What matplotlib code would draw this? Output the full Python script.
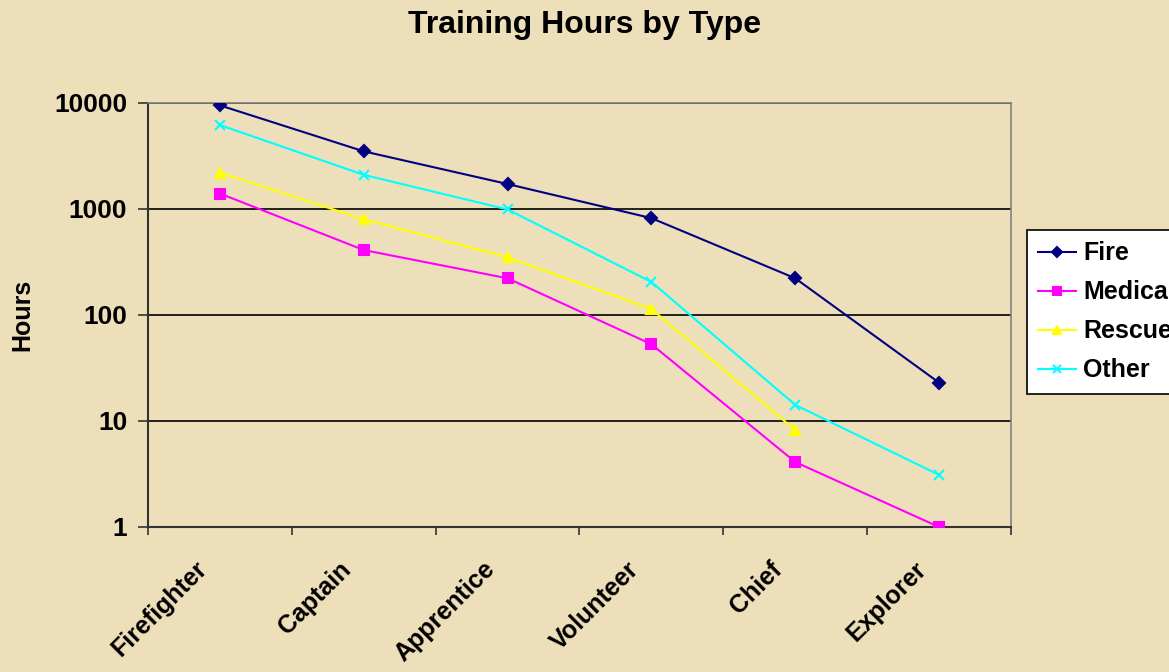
import matplotlib
matplotlib.use("Agg")
import matplotlib.pyplot as plt
from matplotlib.transforms import ScaledTranslation

# chart data
categories = ["Firefighter", "Captain", "Apprentice", "Volunteer", "Chief", "Explorer"]
fire = [9500, 3500, 1720, 820, 222, 23]
medical = [1400, 410, 222, 53, 4.1, 1]
rescue = [2200, 800, 350, 114, 8.2, None]
other = [6200, 2100, 990, 205, 14.2, 3.1]
y_ticks = [1, 10, 100, 1000, 10000]

plt.rcParams['font.family'] = ['Liberation Sans', 'DejaVu Sans']
plt.rcParams['font.weight'] = 'bold'

bg = '#EEDFBB'
fig = plt.figure(figsize=(11.69, 6.72), dpi=100, facecolor=bg)
ax = fig.add_axes([148/1169, 1 - 527/672, (1011-148)/1169, (527-103)/672])
ax.set_facecolor('none')

x = list(range(len(categories)))

def pts(vals):
    xs = [i for i, v in zip(x, vals) if v is not None]
    ys = [v for v in vals if v is not None]
    return xs, ys

# draw each series
series = [
    ("Fire", fire, '#000080', 'D', 6),
    ("Medical", medical, '#FF00FF', 's', 6.5),
    ("Rescue", rescue, '#FFFF00', '^', 7.5),
    ("Other", other, '#00FFFF', 'x', 7),
]
for name, vals, col, mk, ms in series:
    xs, ys = pts(vals)
    ax.plot(xs, ys, color=col, lw=1.5, marker=mk, ms=ms, mec=col, mfc=col,
            mew=1.5, label=name, zorder=3)

ax.set_yscale('log')
ax.set_ylim(1, 10000)
ax.set_xlim(-0.5, len(categories) - 0.5)
ax.set_yticks(y_ticks)
ax.set_yticklabels([str(t) for t in y_ticks], fontsize=19, fontweight='bold')
ax.minorticks_off()
ax.yaxis.grid(True, color='black', lw=1.2)
ax.set_axisbelow(True)

# category ticks sit between categories, labels near the centers
ax.set_xticks([i - 0.5 for i in range(len(categories) + 1)])
ax.set_xticklabels([])
ax.tick_params(axis='x', which='major', length=6, width=1.2, color='#333333')
ax.tick_params(axis='y', length=7, width=1.2, color='#333333', pad=8)

offset = ScaledTranslation(-25/100, -30/100, fig.dpi_scale_trans)
for i, name in enumerate(categories):
    ax.text(i, 0, name, transform=ax.get_xaxis_transform() + offset,
            rotation=45, ha='right', va='top', rotation_mode='anchor',
            fontsize=18, fontweight='bold')

for s in ['left', 'bottom']:
    ax.spines[s].set_color('#333333')
    ax.spines[s].set_linewidth(1.5)
for s in ['top', 'right']:
    ax.spines[s].set_color('#808080')
    ax.spines[s].set_linewidth(1.2)

ax.set_ylabel('Hours', fontsize=18, fontweight='bold', labelpad=14)
fig.text(585/1169, 1 - 25/672, 'Training Hours by Type', ha='center', va='center',
         fontsize=23, fontweight='bold')

leg = fig.legend(loc='upper left', bbox_to_anchor=(1027/1169, 1 - 230/672),
                 fontsize=18, frameon=True, fancybox=False, edgecolor='black',
                 handlelength=1.5, handletextpad=0.3, labelspacing=0.6,
                 borderpad=0.45, borderaxespad=0, markerscale=0.8)
leg.get_frame().set_facecolor('white')
leg.get_frame().set_alpha(1)
leg.get_frame().set_linewidth(1.2)
for t in leg.get_texts():
    t.set_fontweight('bold')

fig.savefig('out.png', dpi=100, facecolor=bg)
